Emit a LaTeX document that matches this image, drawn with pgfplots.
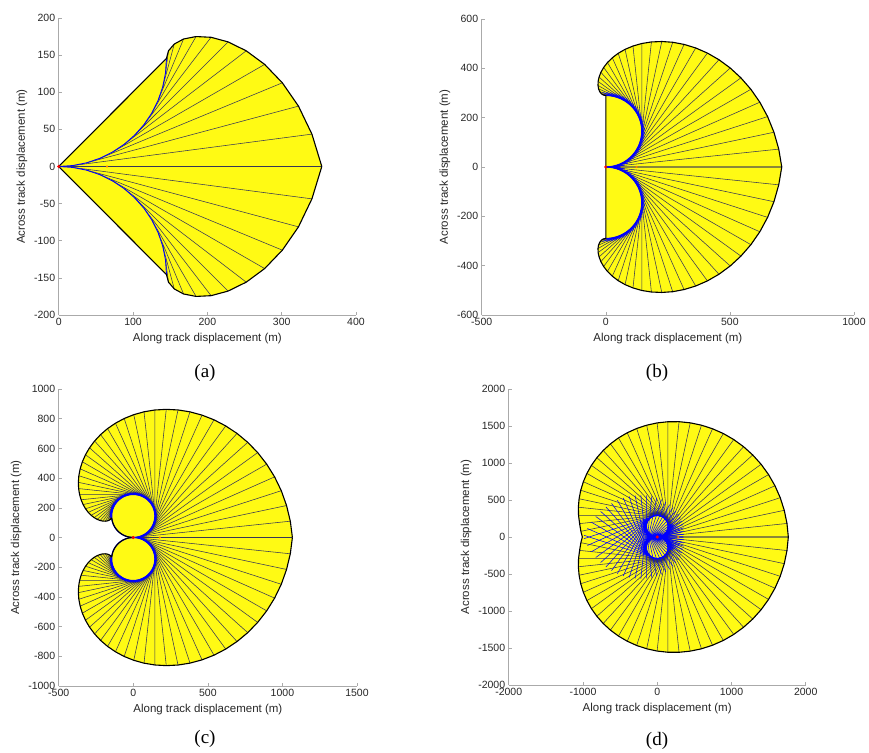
\documentclass[border=0pt]{standalone}
\usepackage{fontspec}
\setmainfont{Liberation Sans}
\newfontfamily\capfont{Liberation Serif}
\usepackage{pgfplots}
\usepackage{pgfplotstable}
\pgfplotsset{compat=1.18}

\definecolor{fillyel}{RGB}{255,250,20}
\definecolor{raycol}{RGB}{55,55,85}
\definecolor{axgray}{RGB}{170,170,170}

\pgfplotsset{
  reach/.style={
    scale only axis, anchor=south west,
    axis x line*=bottom, axis y line*=left,
    axis line style={draw=axgray, line width=0.6pt, -},
    tick style={draw=axgray, line width=0.5pt},
    tick align=inside, major tick length=3pt,
    ticklabel style={font=\fontsize{10.5}{12}\selectfont, text=black!85},
    label style={font=\fontsize{11.5}{13}\selectfont, text=black!85},
    xlabel={Along track displacement (m)},
    ylabel={Across track displacement (m)},
    /pgf/number format/assume math mode=true,
    /pgf/number format/1000 sep={},
    scaled ticks=false,
    unbounded coords=jump,
  },
  yel/.style={fill=fillyel, draw=none},
  ray/.style={raycol, line width=0.55pt},
  iray/.style={blue, line width=0.55pt},
  stub/.style={blue, line width=0.6pt},
  bnd/.style={black, line width=1.1pt, line join=round},
  circ/.style={blue, line width=1.2pt},
  flip/.style={y filter/.expression={-y}},
}

% ---- (a) ----
\pgfplotstableread{
x y
0 0
145 145.6
147.7 155.8
155.5 164.9
168.0 171.7
184.8 175.0
205.0 174.0
227.9 167.8
252.3 155.8
277.1 137.5
300.9 112.7
322.6 81.3
340.7 43.6
354 0
}\aBnd

\pgfplotstableread{
x y
0 0
18.93 1.24
37.53 4.94
55.49 11.04
72.5 19.43
88.27 29.96
102.53 42.47
115.04 56.73
125.57 72.5
133.96 89.51
140.06 107.47
143.76 126.07
145 145
}\aArc

\pgfplotstableread{
x y
0 0
354 0
nan nan
18.93 1.24
340.7 43.6
nan nan
37.53 4.94
322.6 81.3
nan nan
55.49 11.04
300.9 112.7
nan nan
72.5 19.43
277.1 137.5
nan nan
88.27 29.96
252.3 155.8
nan nan
102.53 42.47
227.9 167.8
nan nan
115.04 56.73
205.0 174.0
nan nan
125.57 72.5
184.8 175.0
nan nan
133.96 89.51
168.0 171.7
nan nan
140.06 107.47
155.5 164.9
nan nan
143.76 126.07
147.7 155.8
}\aRay

% ---- turn circle, radius 145 ----
\pgfplotstableread{
x y
0 0
15.16 0.79
30.15 3.17
44.81 7.10
58.98 12.54
72.5 19.43
85.23 27.69
97.02 37.24
107.76 47.98
117.31 59.77
125.57 72.5
132.46 86.02
137.90 100.19
141.83 114.85
144.21 129.84
145 145
144.21 160.16
141.83 175.15
137.90 189.81
132.46 203.98
125.57 217.5
117.31 230.23
107.76 242.02
97.02 252.76
85.23 262.31
72.5 270.57
58.98 277.46
44.81 282.90
30.15 286.83
15.16 289.21
0 290
-15.16 289.21
-30.15 286.83
-44.81 282.90
-58.98 277.46
-72.5 270.57
-85.23 262.31
-97.02 252.76
-107.76 242.02
-117.31 230.23
-125.57 217.5
-132.46 203.98
-137.90 189.81
-141.83 175.15
-144.21 160.16
-145 145
-144.21 129.84
-141.83 114.85
-137.90 100.19
-132.46 86.02
-125.57 72.5
-117.31 59.77
-107.76 47.98
-97.02 37.24
-85.23 27.69
-72.5 19.43
-58.98 12.54
-44.81 7.10
-30.15 3.17
-15.16 0.79
0 0
}\circT

% blue first part of each trajectory after it leaves the circle
\pgfplotstableread{
x y
0 0
60 0
nan nan
15.16 0.79
74.83 7.06
nan nan
30.15 3.17
88.84 15.64
nan nan
44.81 7.10
101.87 25.64
nan nan
58.98 12.54
113.79 36.94
nan nan
72.5 19.43
124.46 49.43
nan nan
85.23 27.69
133.77 62.96
nan nan
97.02 37.24
141.61 77.39
nan nan
107.76 47.98
147.91 92.57
nan nan
117.31 59.77
152.58 108.31
nan nan
125.57 72.5
155.57 124.46
nan nan
132.46 86.02
156.86 140.83
nan nan
137.90 100.19
156.44 157.25
nan nan
141.83 114.85
154.30 173.54
nan nan
144.21 129.84
150.48 189.51
nan nan
145 145
145 205
nan nan
144.21 160.16
137.94 219.83
nan nan
141.83 175.15
129.36 233.84
nan nan
137.90 189.81
119.36 246.87
nan nan
132.46 203.98
108.06 258.79
nan nan
125.57 217.5
95.57 269.46
nan nan
117.31 230.23
82.04 278.77
nan nan
107.76 242.02
67.61 286.61
nan nan
97.02 252.76
52.43 292.91
nan nan
85.23 262.31
36.69 297.58
nan nan
72.5 270.57
20.54 300.57
nan nan
58.98 277.46
4.17 301.86
nan nan
44.81 282.90
-12.25 301.44
}\stubA

\pgfplotstableread{
x y
30.15 286.83
-28.54 299.30
nan nan
15.16 289.21
-44.51 295.48
nan nan
0 290
-60 290
nan nan
-15.16 289.21
-74.83 282.94
nan nan
-30.15 286.83
-88.84 274.36
nan nan
-44.81 282.90
-101.87 264.36
nan nan
-58.98 277.46
-113.79 253.06
nan nan
-72.5 270.57
-124.46 240.57
nan nan
-85.23 262.31
-133.77 227.04
nan nan
-97.02 252.76
-141.61 212.61
nan nan
-107.76 242.02
-147.91 197.43
nan nan
-117.31 230.23
-152.58 181.69
nan nan
-125.57 217.5
-155.57 165.54
nan nan
-132.46 203.98
-156.86 149.17
nan nan
-137.90 189.81
-156.44 132.75
}\stubB

% ---- (b) ----
\pgfplotstableread{
x y
0 0
0 290
-2.1 290
-10.4 291.9
-18.0 297.1
-24.5 305.4
-29.1 316.7
-31.4 330.6
-30.9 346.7
-27.1 364.6
-19.8 383.7
-8.6 403.5
6.7 423.4
26.2 442.7
49.9 460.8
77.7 476.9
109.5 490.3
145 500.6
183.8 506.9
225.6 508.7
269.6 505.6
315.4 496.9
362.3 482.5
409.4 461.8
456.0 434.8
501.3 401.3
544.4 361.3
584.5 315.0
620.6 262.6
651.9 204.3
677.5 140.8
696.8 72.4
709 0
}\bBnd

\pgfplotstableread{
x y
0 0
709 0
nan nan
15.16 0.79
696.8 72.4
nan nan
30.15 3.17
677.5 140.8
nan nan
44.81 7.10
651.9 204.3
nan nan
58.98 12.54
620.6 262.6
nan nan
72.5 19.43
584.5 315.0
nan nan
85.23 27.69
544.4 361.3
nan nan
97.02 37.24
501.3 401.3
nan nan
107.76 47.98
456.0 434.8
nan nan
117.31 59.77
409.4 461.8
nan nan
125.57 72.5
362.3 482.5
nan nan
132.46 86.02
315.4 496.9
nan nan
137.90 100.19
269.6 505.6
nan nan
141.83 114.85
225.6 508.7
nan nan
144.21 129.84
183.8 506.9
nan nan
145 145
145 500.6
nan nan
144.21 160.16
109.5 490.3
nan nan
141.83 175.15
77.7 476.9
nan nan
137.90 189.81
49.9 460.8
nan nan
132.46 203.98
26.2 442.7
nan nan
125.57 217.5
6.7 423.4
nan nan
117.31 230.23
-8.6 403.5
nan nan
107.76 242.02
-19.8 383.7
nan nan
97.02 252.76
-27.1 364.6
nan nan
85.23 262.31
-30.9 346.7
nan nan
72.5 270.57
-31.4 330.6
nan nan
58.98 277.46
-29.1 316.7
nan nan
44.81 282.90
-24.5 305.4
nan nan
30.15 286.83
-18.0 297.1
nan nan
15.16 289.21
-10.4 291.9
}\bRay

% ---- (c) ----
\pgfplotstableread{
x y
0 0
-15.16 0.79
-30.15 3.17
-44.81 7.10
-58.98 12.54
-72.5 19.43
-85.23 27.69
-97.02 37.24
-107.76 47.98
-117.31 59.77
-125.57 72.5
-132.46 86.02
-137.90 100.19
-141.83 114.85
-144.21 129.84
-147.4 130.1
-153.0 122.5
-161.8 116.2
-173.5 111.8
-187.8 109.7
-204.4 110.4
-222.6 114.5
-242.1 122.1
-262.2 133.7
-282.4 149.4
-301.9 169.3
-320.1 193.5
-336.3 221.8
-349.9 254.0
-360.1 290
-366.4 329.3
-368.2 371.5
-365.0 416.0
-356.1 462.3
-341.4 509.6
-320.5 557.1
-293.2 604.1
-259.3 649.7
-219.0 693.1
-172.3 733.4
-119.4 769.7
-60.8 801.3
3.3 827.0
72.1 846.4
145 858.6
221.2 862.9
300.0 858.9
380.2 846.1
461.0 824.0
541.3 792.5
619.8 751.4
695.6 700.8
767.4 640.8
834.1 571.8
894.5 494.0
947.6 408.2
992.4 315.0
1027.7 215.2
1052.9 109.8
1067 0
}\cBnd

\pgfplotstableread{
x y
0 0
1067 0
nan nan
15.16 0.79
1052.9 109.8
nan nan
30.15 3.17
1027.7 215.2
nan nan
44.81 7.10
992.4 315.0
nan nan
58.98 12.54
947.6 408.2
nan nan
72.5 19.43
894.5 494.0
nan nan
85.23 27.69
834.1 571.8
nan nan
97.02 37.24
767.4 640.8
nan nan
107.76 47.98
695.6 700.8
nan nan
117.31 59.77
619.8 751.4
nan nan
125.57 72.5
541.3 792.5
nan nan
132.46 86.02
461.0 824.0
nan nan
137.90 100.19
380.2 846.1
nan nan
141.83 114.85
300.0 858.9
nan nan
144.21 129.84
221.2 862.9
nan nan
145 145
145 858.6
nan nan
144.21 160.16
72.1 846.4
nan nan
141.83 175.15
3.3 827.0
nan nan
137.90 189.81
-60.8 801.3
nan nan
132.46 203.98
-119.4 769.7
nan nan
125.57 217.5
-172.3 733.4
nan nan
117.31 230.23
-219.0 693.1
nan nan
107.76 242.02
-259.3 649.7
nan nan
97.02 252.76
-293.2 604.1
nan nan
85.23 262.31
-320.5 557.1
nan nan
72.5 270.57
-341.4 509.6
nan nan
58.98 277.46
-356.1 462.3
nan nan
44.81 282.90
-365.0 416.0
nan nan
30.15 286.83
-368.2 371.5
nan nan
15.16 289.21
-366.4 329.3
nan nan
0 290
-360.1 290
nan nan
-15.16 289.21
-349.9 254.0
nan nan
-30.15 286.83
-336.3 221.8
nan nan
-44.81 282.90
-320.1 193.5
nan nan
-58.98 277.46
-301.9 169.3
nan nan
-72.5 270.57
-282.4 149.4
nan nan
-85.23 262.31
-262.2 133.7
nan nan
-97.02 252.76
-242.1 122.1
nan nan
-107.76 242.02
-222.6 114.5
nan nan
-117.31 230.23
-204.4 110.4
nan nan
-125.57 217.5
-187.8 109.7
nan nan
-132.46 203.98
-173.5 111.8
nan nan
-137.90 189.81
-161.8 116.2
nan nan
-141.83 175.15
-153.0 122.5
nan nan
-144.21 160.16
-147.4 130.1
}\cRay

% ---- (d) ----
\pgfplotstableread{
x y
-1008 0
-1028 76.4
-1045.0 181.0
-1059.1 290
-1061.6 402.4
-1051.9 516.8
-1029.8 632.0
-994.6 746.5
-946.7 859.1
-886.0 968.0
-812.6 1071.8
-727.0 1169.1
-629.9 1258.6
-521.8 1338.8
-403.7 1408.3
-276.7 1466.1
-142.1 1510.7
-0.9 1541.5
145 1557.6
294.3 1558.1
445.3 1542.6
596.2 1510.9
745.3 1462.5
890.8 1397.8
1030.7 1316.9
1163.3 1220.2
1286.8 1108.5
1399.6 982.7
1499.8 843.5
1586.1 692.4
1657.2 531.0
1711.4 360.5
1748.0 182.9
1766 0
}\dBnd

\pgfplotstableread{
x y
0 0
1766 0
nan nan
15.16 0.79
1748.0 182.9
nan nan
30.15 3.17
1711.4 360.5
nan nan
44.81 7.10
1657.2 531.0
nan nan
58.98 12.54
1586.1 692.4
nan nan
72.5 19.43
1499.8 843.5
nan nan
85.23 27.69
1399.6 982.7
nan nan
97.02 37.24
1286.8 1108.5
nan nan
107.76 47.98
1163.3 1220.2
nan nan
117.31 59.77
1030.7 1316.9
nan nan
125.57 72.5
890.8 1397.8
nan nan
132.46 86.02
745.3 1462.5
nan nan
137.90 100.19
596.2 1510.9
nan nan
141.83 114.85
445.3 1542.6
nan nan
144.21 129.84
294.3 1558.1
nan nan
145 145
145 1557.6
nan nan
144.21 160.16
-0.9 1541.5
nan nan
141.83 175.15
-142.1 1510.7
nan nan
137.90 189.81
-276.7 1466.1
nan nan
132.46 203.98
-403.7 1408.3
nan nan
125.57 217.5
-521.8 1338.8
nan nan
117.31 230.23
-629.9 1258.6
nan nan
107.76 242.02
-727.0 1169.1
nan nan
97.02 252.76
-812.6 1071.8
nan nan
85.23 262.31
-886.0 968.0
nan nan
72.5 270.57
-946.7 859.1
nan nan
58.98 277.46
-994.6 746.5
nan nan
44.81 282.90
-1029.8 632.0
nan nan
30.15 286.83
-1051.9 516.8
nan nan
15.16 289.21
-1061.6 402.4
nan nan
0 290
-1059.1 290
nan nan
-15.16 289.21
-1045.0 181.0
nan nan
-30.15 286.83
-1028 76.4
}\dRay

\pgfplotstableread{
x y
-44.81 282.90
-984.9 -22.5
nan nan
-58.98 277.46
-940.4 -115.0
nan nan
-72.5 270.57
-887.7 -200.1
nan nan
-85.23 262.31
-827.7 -277.2
nan nan
-97.02 252.76
-761.5 -345.6
nan nan
-107.76 242.02
-690.3 -405.0
nan nan
-117.31 230.23
-615.2 -455.1
nan nan
-125.57 217.5
-537.3 -495.7
nan nan
-132.46 203.98
-457.8 -526.8
nan nan
-137.90 189.81
-377.8 -548.6
nan nan
-141.83 175.15
-298.4 -561.2
nan nan
-144.21 160.16
-220.4 -565.1
nan nan
-145 145
-145 -560.7
nan nan
-144.21 129.84
-72.9 -548.6
nan nan
-141.83 114.85
-4.9 -529.3
nan nan
-137.90 100.19
58.3 -503.8
nan nan
-132.46 86.02
116.2 -472.6
nan nan
-125.57 72.5
168.4 -436.6
nan nan
-117.31 59.77
214.4 -396.8
nan nan
-107.76 47.98
254.1 -353.9
nan nan
-97.02 37.24
287.3 -308.8
nan nan
-85.23 27.69
314.1 -262.5
nan nan
-72.5 19.43
334.6 -215.6
nan nan
-58.98 12.54
348.9 -169.1
nan nan
-44.81 7.10
357.5 -123.6
nan nan
-30.15 3.17
360.5 -79.9
nan nan
-15.16 0.79
358.6 -38.5
nan nan
0 0
352.3 0
nan nan
15.16 0.79
342.1 35.1
nan nan
30.15 3.17
328.6 66.6
nan nan
44.81 7.10
312.6 94.1
nan nan
58.98 12.54
294.7 117.5
nan nan
72.5 19.43
275.6 136.7
nan nan
85.23 27.69
255.9 151.7
nan nan
97.02 37.24
236.2 162.6
nan nan
107.76 47.98
217.4 169.7
nan nan
117.31 59.77
199.7 173.2
nan nan
125.57 72.5
183.9 173.5
nan nan
132.46 86.02
170.3 171.1
nan nan
137.90 100.19
159.4 166.3
nan nan
141.83 114.85
151.4 159.8
}\dIn

\begin{document}
\begin{tikzpicture}
\path (0,0) rectangle (869pt,751pt);

% (a)
\begin{axis}[reach, at={(58.7pt,436pt)}, width=297.3pt, height=297pt,
  xmin=0, xmax=400, ymin=-200, ymax=200,
  xtick={0,100,200,300,400}, ytick={-200,-150,...,200}]
\addplot[yel] table {\aBnd} -- cycle;
\addplot[yel, flip] table {\aBnd} -- cycle;
\addplot[ray] table {\aRay};
\addplot[ray, flip] table {\aRay};
\addplot[circ, line width=0.9pt] table {\aArc};
\addplot[circ, line width=0.9pt, flip] table {\aArc};
\addplot[bnd] table {\aBnd};
\addplot[bnd, flip] table {\aBnd};
\addplot[only marks, mark=*, mark size=1.3pt, red] coordinates {(0,0)};
\addplot[only marks, mark=*, mark size=0.9pt, orange] coordinates {(65,0)};
\end{axis}

% (b)
\begin{axis}[reach, at={(481.7pt,436pt)}, width=372.3pt, height=296pt,
  xmin=-500, xmax=1000, ymin=-600, ymax=600,
  xtick={-500,0,500,1000}, ytick={-600,-400,...,600}]
\addplot[yel] table {\bBnd} -- cycle;
\addplot[yel, flip] table {\bBnd} -- cycle;
\addplot[ray] table {\bRay};
\addplot[ray, flip] table {\bRay};
\addplot[stub] table {\stubA};
\addplot[stub, flip] table {\stubA};
\addplot[circ, skip coords between index={31}{61}] table {\circT};
\addplot[circ, flip, skip coords between index={31}{61}] table {\circT};
\addplot[bnd] table {\bBnd};
\addplot[bnd, flip] table {\bBnd};
\addplot[only marks, mark=*, mark size=1.3pt, red] coordinates {(0,0)};
\addplot[only marks, mark=*, mark size=0.9pt, orange] coordinates {(124,0)};
\end{axis}

% (c)
\begin{axis}[reach, at={(58.7pt,65pt)}, width=298.3pt, height=297pt,
  xmin=-500, xmax=1500, ymin=-1000, ymax=1000,
  xtick={-500,0,500,1000,1500}, ytick={-1000,-800,...,1000}]
\addplot[yel] table {\cBnd} -- cycle;
\addplot[yel, flip] table {\cBnd} -- cycle;
\addplot[ray] table {\cRay};
\addplot[ray, flip] table {\cRay};
\addplot[stub] table {\stubA};
\addplot[stub, flip] table {\stubA};
\addplot[stub] table {\stubB};
\addplot[stub, flip] table {\stubB};
\addplot[circ] table {\circT};
\addplot[circ, flip] table {\circT};
\addplot[bnd] table {\cBnd};
\addplot[bnd, flip] table {\cBnd};
\addplot[only marks, mark=*, mark size=1.3pt, red] coordinates {(0,0)};
\addplot[only marks, mark=*, mark size=0.9pt, orange] coordinates {(178,0)};
\end{axis}

% (d)
\begin{axis}[reach, at={(508.7pt,66pt)}, width=297pt, height=296pt,
  xmin=-2000, xmax=2000, ymin=-2000, ymax=2000,
  xtick={-2000,-1000,0,1000,2000}, ytick={-2000,-1500,...,2000}]
\addplot[yel] table {\dBnd} -- cycle;
\addplot[yel, flip] table {\dBnd} -- cycle;
\addplot[ray] table {\dRay};
\addplot[ray, flip] table {\dRay};
\addplot[iray] table {\dIn};
\addplot[iray, flip] table {\dIn};
\addplot[stub] table {\stubA};
\addplot[stub, flip] table {\stubA};
\addplot[stub] table {\stubB};
\addplot[stub, flip] table {\stubB};
\addplot[circ] table {\circT};
\addplot[circ, flip] table {\circT};
\addplot[bnd] table {\dBnd};
\addplot[bnd, flip] table {\dBnd};
\addplot[only marks, mark=*, mark size=1.3pt, red] coordinates {(0,0)};
\addplot[only marks, mark=*, mark size=0.9pt, orange] coordinates {(284,0)};
\end{axis}

\node[font=\capfont\fontsize{19}{21}\selectfont] at (205pt,378pt) {(a)};
\node[font=\capfont\fontsize{19}{21}\selectfont] at (657pt,378pt) {(b)};
\node[font=\capfont\fontsize{19}{21}\selectfont] at (205pt,12pt) {(c)};
\node[font=\capfont\fontsize{19}{21}\selectfont] at (657pt,10pt) {(d)};
\end{tikzpicture}
\end{document}
